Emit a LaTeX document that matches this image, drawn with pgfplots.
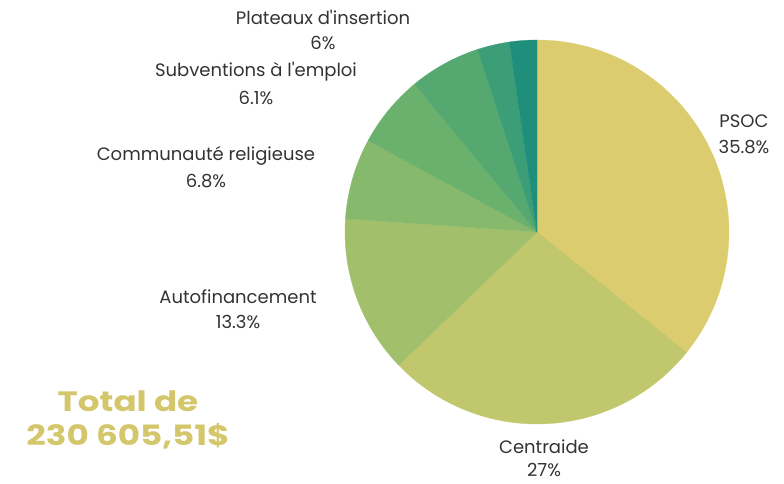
\documentclass[border=0pt]{standalone}
\usepackage{pgfplots}
\pgfplotsset{compat=1.18}
\usepackage{pgfplotstable}
\usepackage{graphicx}
\usepackage{fontspec}
\setmainfont{Poppins}[Ligatures=TeXOff]
\definecolor{c0}{HTML}{DBCC6F}
\definecolor{c1}{HTML}{C0C76C}
\definecolor{c2}{HTML}{A2C06B}
\definecolor{c3}{HTML}{86B96C}
\definecolor{c4}{HTML}{6AB16E}
\definecolor{c5}{HTML}{55A970}
\definecolor{c6}{HTML}{3C9E76}
\definecolor{c7}{HTML}{1F8F7C}
\definecolor{lbl}{HTML}{333333}
\definecolor{tot}{HTML}{D4C66A}
\pgfplotstableread{
idx pct
0 35.8
1 27.0
2 13.3
3 6.8
4 6.1
5 6.0
6 2.7
7 2.3
}\piedata
\begin{document}
\begin{tikzpicture}
\begin{axis}[
  width=784pt, height=484pt, scale only axis,
  xmin=0, xmax=784, ymin=0, ymax=484,
  axis lines=none, clip=false,
]
\path[use as bounding box] (0,0) rectangle (784,484);
\gdef\cum{0}
\pgfplotsforeachungrouped \i in {0,...,7}{%
  \pgfplotstablegetelem{\i}{pct}\of\piedata
  \let\p\pgfplotsretval
  \pgfmathsetmacro{\a}{90-3.6*\cum}%
  \pgfmathsetmacro{\b}{90-3.6*(\cum+\p)}%
  \pgfmathsetmacro{\newcum}{\cum+\p}%
  \xdef\cum{\newcum}%
  \edef\cmd{\noexpand\addplot[fill=c\i, draw=c\i, line width=0.3pt, domain=\b:\a, samples=60, variable=\noexpand\t]
    ({537+192*cos(\noexpand\t)},{252+192*sin(\noexpand\t)}) -- (537,252) -- cycle;}%
  \cmd
}
\begin{scope}[every node/.style={text=lbl, font=\fontsize{18}{21}\selectfont, anchor=center, inner sep=0pt}]
\node at (323,467) {Plateaux d'insertion};
\node at (323,441) {6\%};
\node at (256,412) {Subventions à l'emploi};
\node at (256,386) {6.1\%};
\node at (206,328) {Communauté religieuse};
\node at (206,303) {6.8\%};
\node at (238,187) {Autofinancement};
\node at (238,162) {13.3\%};
\node at (744,363) {PSOC};
\node at (744,337) {35.8\%};
\node at (544,37) {Centraide};
\node at (544,14) {27\%};
\end{scope}
\node[text=tot, font=\fontsize{28}{30}\selectfont\bfseries, anchor=center, inner sep=0pt] at (128,83) {\scalebox{1.22}[1]{Total de}};
\node[text=tot, font=\fontsize{28}{30}\selectfont\bfseries, anchor=center, inner sep=0pt] at (128,48) {\scalebox{1.22}[1]{230 605,51\$}};
\end{axis}
\end{tikzpicture}
\end{document}
